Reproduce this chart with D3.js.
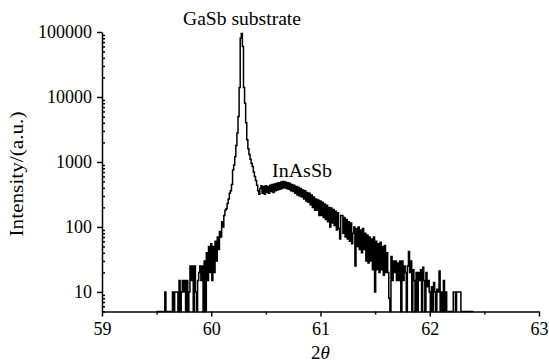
<!DOCTYPE html>
<html>
<head>
<meta charset="utf-8">
<script src="https://cdn.jsdelivr.net/npm/d3@7"></script>
<style>
  body { margin: 0; background: #fff; }
  text { font-family: "Liberation Serif", "Times New Roman", serif; fill: #000; }
  .axis path, .axis line { stroke: #000; stroke-width: 1.5; }
  .line { fill: none; stroke: #000; stroke-width: 1.5; }
</style>
</head>
<body>
<div id="chart"></div>
<script>

// scan grid: 2theta from 59.50 in steps of 0.01 deg
var scanStart = 59.5,
    scanStep = 0.01;

// counts, 0 = no counts (sits on the axis)
var leftNoise = [
  0, 0, 0, 0, 0, 0, 0, 0, 10, 0,          // 59.50
  0, 0, 0, 0, 0, 10, 0, 10, 10, 10,       // 59.60
  0, 15, 0, 10, 15, 10, 15, 0, 15, 0,     // 59.70
  10, 25, 15, 25, 0, 25, 10, 0, 15, 20,   // 59.80
  25, 15, 25, 0, 30, 0, 40, 15, 50, 20,   // 59.90
  55, 15, 50, 20, 60, 30, 70, 45, 85, 70  // 60.00
];

var substratePeak = [
  120, 100, 150, 180, 190, 230, 270, 330, 360, 450,             // 60.10
  750, 900, 1200, 1800, 2800, 5000, 14000, 80000, 95000, 60000, // 60.20
  14000, 8000, 4000, 2200, 1600, 1300, 1100, 950, 850, 700      // 60.30
];

var layerHump = [
  600, 520, 440, 360, 320, 390, 430, 330, 420, 320,  // 60.40
  430, 340, 420, 330, 440, 350, 450, 340, 460, 360,  // 60.50
  470, 370, 480, 380, 490, 390, 500, 400, 490, 390,  // 60.60
  480, 380, 470, 360, 450, 350, 440, 330, 420, 310,  // 60.70
  410, 300, 390, 290, 370, 270, 360, 250, 340, 240,  // 60.80
  330, 220, 310, 200, 290, 180, 270, 180, 260, 150,  // 60.90
  250, 150, 240, 140, 225, 130, 215, 120, 200, 100,  // 61.00
  195, 115, 185, 105, 175, 90, 165, 95, 65, 150,     // 61.10
  150, 80, 140, 70, 130, 65, 120, 60, 115, 55        // 61.20
];

var rightTail = [
  80, 100, 25, 95, 50, 100, 45, 90, 40, 95,  // 61.30
  45, 80, 30, 75, 28, 70, 30, 65, 22, 70,    // 61.40
  10, 60, 22, 55, 20, 58, 22, 50, 18, 52,    // 61.50
  20, 40, 20, 8, 0, 35, 15, 30, 20, 30,      // 61.60
  15, 28, 15, 30, 0, 30, 15, 25, 20, 0,      // 61.70
  25, 42, 20, 30, 0, 22, 15, 0, 20, 0,       // 61.80
  20, 15, 22, 0, 24, 15, 0, 20, 12, 15,      // 61.90
  10, 0, 12, 0, 14, 10, 0, 11, 10, 21,       // 62.00
  0, 10, 0, 15, 0, 10, 0, 0, 0, 0,           // 62.10
  0, 0, 10, 10, 0, 10, 10, 10, 10, 0,        // 62.20
  0, 0, 0, 0, 0, 0, 0, 0, 0, 0, 0            // 62.30
];

var xTicks = [59, 60, 61, 62, 63],
    xMinorTicks = [59.5, 60.5, 61.5, 62.5],
    yTicks = [10, 100, 1000, 10000, 100000];

var counts = leftNoise.concat(substratePeak, layerHump, rightTail);
var data = counts.map(function(c, i) {
  return { angle: scanStart + i * scanStep, count: c };
});

var svg = d3.select("#chart").append("svg")
    .attr("width", 549)
    .attr("height", 363);

var x = d3.scaleLinear()
    .domain([59, 63])
    .range([102, 539]);

var y = d3.scaleLog()
    .domain([5, 100000])
    .range([311.5, 32])
    .clamp(true);

// minor y ticks: 2..9 of every decade
var yMinorTicks = [];
[1, 10, 100, 1000, 10000].forEach(function(d) {
  for (var k = 2; k <= 9; k++) {
    if (d * k >= 5) yMinorTicks.push(d * k);
  }
});

// curve
var line = d3.line()
    .curve(d3.curveStep)
    .x(function(d) { return x(d.angle); })
    .y(function(d) { return y(d.count); });

svg.append("path")
    .datum(data)
    .attr("class", "line")
    .attr("d", line);

// x axis
svg.append("g")
    .attr("class", "axis")
    .attr("transform", "translate(0," + y(5) + ")")
    .call(d3.axisBottom(x).tickValues(xMinorTicks).tickSize(3).tickFormat(""))
    .call(function(g) { g.select(".domain").remove(); });

svg.append("g")
    .attr("class", "axis")
    .attr("transform", "translate(0," + y(5) + ")")
    .call(d3.axisBottom(x).tickValues(xTicks).tickSize(5).tickSizeOuter(0).tickPadding(6).tickFormat(d3.format("d")))
    .selectAll("text")
    .style("font-size", "18px");

// y axis
svg.append("g")
    .attr("class", "axis")
    .attr("transform", "translate(" + x(59) + ",0)")
    .call(d3.axisRight(y).tickValues(yMinorTicks).tickSize(3).tickFormat(""))
    .call(function(g) { g.select(".domain").remove(); });

svg.append("g")
    .attr("class", "axis")
    .attr("transform", "translate(" + x(59) + ",0)")
    .call(d3.axisLeft(y).tickValues(yTicks).tickSize(5).tickSizeOuter(0).tickPadding(5).tickFormat(d3.format("d")))
    .selectAll("text")
    .style("font-size", "18px");

// labels
svg.append("text")
    .attr("transform", "translate(23,174) rotate(-90)")
    .attr("text-anchor", "middle")
    .attr("textLength", 125)
    .attr("lengthAdjust", "spacingAndGlyphs")
    .style("font-size", "18px")
    .text("Intensity/(a.u.)");

var xLabel = svg.append("text")
    .attr("x", x(61))
    .attr("y", 359)
    .attr("text-anchor", "middle")
    .style("font-size", "19px");
xLabel.append("tspan").text("2");
xLabel.append("tspan").style("font-style", "italic").text("θ");

svg.append("text")
    .attr("x", 183)
    .attr("y", 25)
    .attr("textLength", 118)
    .attr("lengthAdjust", "spacingAndGlyphs")
    .style("font-size", "18px")
    .text("GaSb substrate");

svg.append("text")
    .attr("x", 272)
    .attr("y", 177)
    .attr("textLength", 60)
    .attr("lengthAdjust", "spacingAndGlyphs")
    .style("font-size", "18px")
    .text("InAsSb");

</script>
</body>
</html>
